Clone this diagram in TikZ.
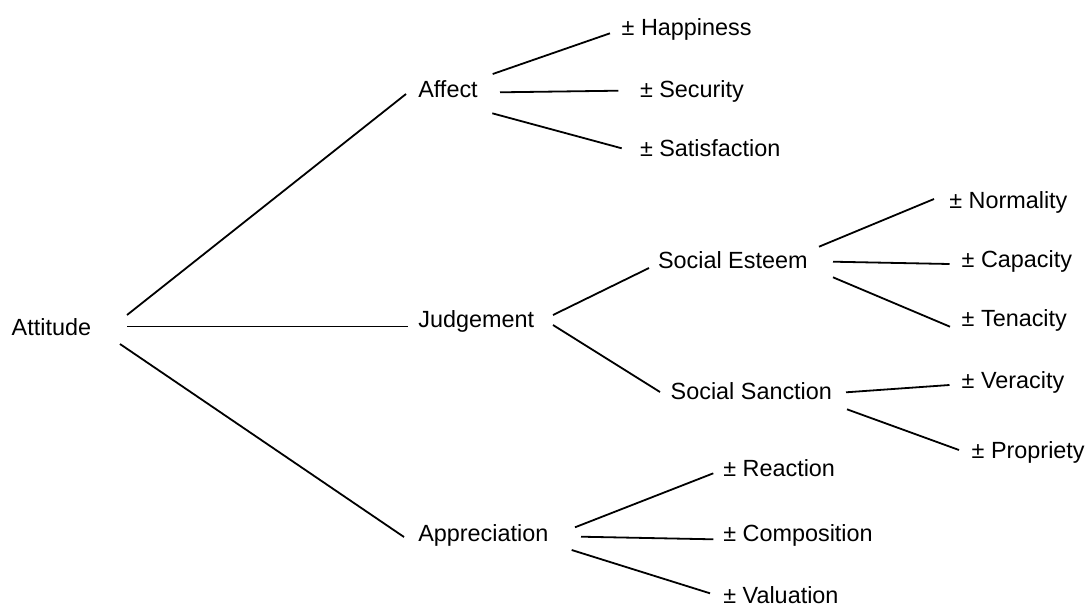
\documentclass[tikz,border=0pt]{standalone}
\usepackage{fontspec}
\setmainfont{Liberation Sans}
\begin{document}
\begin{tikzpicture}[x=1pt,y=-1pt,
  lbl/.style={inner sep=0pt, outer sep=0pt, anchor=base west, font=\fontsize{23.4}{28}\selectfont},
  link/.style={line width=1.8pt, black}]
\useasboundingbox (0,0) rectangle (1090,606);
% nodes
\node[lbl] (attitude) at (11.7,335) {Attitude};
\node[lbl] (affect) at (418.3,97) {Affect};
\node[lbl] (judgement) at (418.3,327.3) {Judgement};
\node[lbl] (appreciation) at (418.3,541.7) {Appreciation};
\node[lbl] (happiness) at (621.7,35) {± Happiness};
\node[lbl] (security) at (640,97) {± Security};
\node[lbl] (satisfaction) at (640,156.7) {± Satisfaction};
\node[lbl] (esteem) at (658,268.3) {Social Esteem};
\node[lbl] (sanction) at (670.7,399.3) {Social Sanction};
\node[lbl] (normality) at (949.3,208.3) {± Normality};
\node[lbl] (capacity) at (961.7,267.3) {± Capacity};
\node[lbl] (tenacity) at (961.7,326.7) {± Tenacity};
\node[lbl] (veracity) at (961.7,388.3) {± Veracity};
\node[lbl] (propriety) at (971.7,458.3) {± Propriety};
\node[lbl] (reaction) at (723.3,476) {± Reaction};
\node[lbl] (composition) at (723.3,541.7) {± Composition};
\node[lbl] (valuation) at (723.3,603.3) {± Valuation};
% connector end points
\coordinate (att1) at (127,315);   \coordinate (aff0) at (406,94);
\coordinate (att2) at (127,326.5); \coordinate (jud0) at (408,326.5);
\coordinate (att3) at (120,344);   \coordinate (app0) at (404,537);
\coordinate (aff1) at (492.7,74);  \coordinate (hap0) at (610,33.3);
\coordinate (aff2) at (500,92.3);  \coordinate (sec0) at (618.3,90.7);
\coordinate (aff3) at (492.3,113.3); \coordinate (sat0) at (621.7,148.3);
\coordinate (jud1) at (553,315);   \coordinate (est0) at (649,268);
\coordinate (jud2) at (553,325);   \coordinate (san0) at (660,392);
\coordinate (est1) at (819,246.7); \coordinate (nor0) at (934,199);
\coordinate (est2) at (833,261.7); \coordinate (cap0) at (949.5,264);
\coordinate (est3) at (833,277.3); \coordinate (ten0) at (950,326.7);
\coordinate (san1) at (846,392.3); \coordinate (ver0) at (949.5,385);
\coordinate (san2) at (847,409.3); \coordinate (pro0) at (959,450);
\coordinate (app1) at (575,527.3); \coordinate (rea0) at (713.3,473.3);
\coordinate (app2) at (581,536.7); \coordinate (com0) at (713.3,539.3);
\coordinate (app3) at (571.7,550); \coordinate (val0) at (710,593.3);
% connectors
\draw[link] (att1) -- (aff0);
\draw[link] (att2) -- (jud0);
\draw[link] (att3) -- (app0);
\draw[link] (aff1) -- (hap0);
\draw[link] (aff2) -- (sec0);
\draw[link] (aff3) -- (sat0);
\draw[link] (jud1) -- (est0);
\draw[link] (jud2) -- (san0);
\draw[link] (est1) -- (nor0);
\draw[link] (est2) -- (cap0);
\draw[link] (est3) -- (ten0);
\draw[link] (san1) -- (ver0);
\draw[link] (san2) -- (pro0);
\draw[link] (app1) -- (rea0);
\draw[link] (app2) -- (com0);
\draw[link] (app3) -- (val0);
\end{tikzpicture}
\end{document}
